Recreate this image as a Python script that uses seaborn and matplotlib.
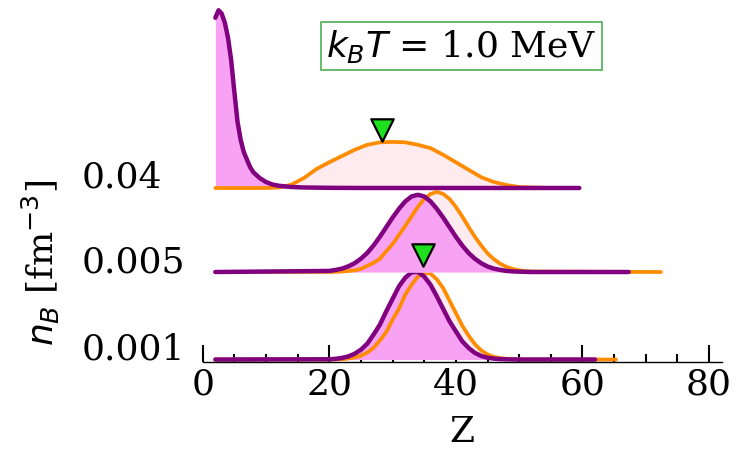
import matplotlib
matplotlib.use("Agg")
import matplotlib.pyplot as plt
import seaborn as sns

# Density labels for the three rows (bottom to top)
densities = ["0.001", "0.005", "0.04"]

# Z grid used by the two lower rows
z_mid = list(range(20, 53))

# n_B = 0.001 fm^-3 (yield in %)
purple_001 = [0.03, 0.09, 0.19, 0.37, 0.69, 1.18, 1.9, 3.0, 4.2, 5.8, 7.3, 8.8, 9.85, 10.5,
              10.55, 10.0, 9.0, 7.6, 6.1, 4.6, 3.4, 2.2, 1.4, 0.8, 0.43, 0.22, 0.11, 0.05,
              0.03, 0.01, 0, 0, 0]
orange_001 = [0, 0.01, 0.03, 0.12, 0.25, 0.45, 0.85, 1.4, 2.3, 3.3, 4.8, 6.1, 7.8, 9.0,
              10.0, 10.45, 10.35, 9.65, 8.6, 7.1, 5.6, 4.1, 2.9, 1.85, 1.1, 0.62, 0.32, 0.18,
              0.09, 0.05, 0.02, 0.01, 0]

# n_B = 0.005 fm^-3
purple_005 = [0.13, 0.25, 0.41, 0.68, 1.06, 1.6, 2.3, 3.2, 4.25, 5.4, 6.55, 7.6, 8.5, 9.1,
              9.3, 9.1, 8.5, 7.6, 6.55, 5.4, 4.25, 3.2, 2.3, 1.6, 1.06, 0.66, 0.41, 0.25,
              0.13, 0.07, 0.04, 0.02, 0]
orange_005 = [0.01, 0.02, 0.06, 0.12, 0.2, 0.37, 0.75, 1.1, 1.6, 2.5, 3.35, 4.45, 5.55, 6.7,
              7.85, 8.8, 9.4, 9.65, 9.4, 8.8, 7.85, 6.7, 5.45, 4.25, 3.2, 2.25, 1.55, 1.0,
              0.62, 0.37, 0.2, 0.1, 0.06]

# n_B = 0.04 fm^-3
z_purple_004 = [2, 2.5, 3, 3.5, 4, 4.5, 5, 5.5, 6, 6.5, 7, 7.5, 8, 9, 10, 11, 12, 14, 16, 18,
                20, 25, 59.5]
purple_004 = [20.5, 21.4, 21.0, 19.9, 18.1, 15.4, 11.6, 8.0, 5.8, 4.3, 3.4, 2.5, 1.9, 1.2,
              0.72, 0.42, 0.27, 0.12, 0.06, 0.04, 0.02, 0, 0]
z_orange_004 = [2, 10, 12, 14, 16, 18, 20, 22, 24, 26, 28, 30, 32, 34, 36, 38, 40, 42, 44, 46,
                48, 50, 52, 55, 59.5]
orange_004 = [0, 0, 0.05, 0.4, 1.2, 2.3, 3.1, 3.85, 4.6, 5.2, 5.5, 5.55, 5.5, 5.2, 4.8, 4.0,
              3.1, 2.2, 1.3, 0.72, 0.36, 0.12, 0.06, 0, 0]

# where the tails end (last Z of each curve)
tail_end = {"0.001": (62, 65.3), "0.005": (67.3, 72.4)}

# green markers: (row, Z, height above row baseline)
marker_row = ["0.04", "0.001"]
marker_z = [28.3, 34.8]
marker_h = [7.0, 12.6]

# ---- style ----
sns.set_theme(style="white")
plt.rcParams["font.family"] = ["DejaVu Serif"]
plt.rcParams["mathtext.fontset"] = "dejavusans"
plt.rcParams["text.color"] = "black"
plt.rcParams["axes.labelcolor"] = "black"
plt.rcParams["xtick.color"] = "black"
plt.rcParams["ytick.color"] = "black"

PURPLE = "#800080"
ORANGE = "#ff8c00"
MAGENTA_FILL = "#f8a2f4"
LIGHT_FILL = "#fdebef"

offsets = {"0.001": 0.3, "0.005": 10.84, "0.04": 20.96}

fig = plt.figure(figsize=(7.46, 4.51), dpi=100)
ax = fig.add_axes([0.2717, 0.1973, 0.6957, 0.8027])

rows = {
    "0.001": ([2] + z_mid + [tail_end["0.001"][0]], [0] + purple_001 + [0],
              [2] + z_mid + [tail_end["0.001"][1]], [0] + orange_001 + [0]),
    "0.005": ([2] + z_mid + [tail_end["0.005"][0]], [0] + purple_005 + [0],
              [2] + z_mid + [tail_end["0.005"][1]], [0] + orange_005 + [0]),
    "0.04": (z_purple_004, purple_004, z_orange_004, orange_004),
}

for i, d in enumerate(densities):
    zp, yp, zo, yo = rows[d]
    off = offsets[d]
    yp_off = [v + off for v in yp]
    yo_off = [v + off for v in yo]
    z0 = 3 * i
    ax.fill_between(zo, off, yo_off, color=LIGHT_FILL, lw=0, zorder=z0 + 1)
    ax.fill_between(zp, off, yp_off, color=MAGENTA_FILL, lw=0, zorder=z0 + 1.5)
    sns.lineplot(x=zo, y=yo_off, color=ORANGE, lw=2.7, ax=ax, estimator=None, sort=False,
                 zorder=z0 + 2)
    sns.lineplot(x=zp, y=yp_off, color=PURPLE, lw=3.2, ax=ax, estimator=None, sort=False,
                 zorder=z0 + 2.5)

mk_y = [offsets[r] + h for r, h in zip(marker_row, marker_h)]
sns.scatterplot(x=marker_z, y=mk_y, marker="v", s=260, color="#1fe01f",
                edgecolor="black", linewidth=1.6, ax=ax, zorder=20, clip_on=False)

ax.set_xlim(0, 82)
ax.set_ylim(0, 43.6)
for s in ["left", "right", "top"]:
    ax.spines[s].set_visible(False)
ax.spines["bottom"].set_color("black")
ax.spines["bottom"].set_linewidth(1.0)

ax.set_xticks([0, 20, 40, 60, 80])
ax.set_xticks(list(range(0, 81, 5)), minor=True)
ax.tick_params(axis="x", which="major", direction="in", length=12, width=1.5,
               labelsize=26, pad=4, bottom=True)
ax.tick_params(axis="x", which="minor", direction="in", length=5.5, width=1.5,
               bottom=True)
ax.set_xlabel("Z", fontsize=26, labelpad=10)

ax.set_yticks([offsets[d] for d in densities])
ax.set_yticklabels(densities)
ax.tick_params(axis="y", length=0, labelsize=26, pad=87)
plt.setp(ax.get_yticklabels(), ha="left", va="baseline")

ax.set_ylabel(r"$n_B$ [fm$^{-3}$]", fontsize=26)
ax.yaxis.set_label_coords(-0.272, 0.2735)

fig.text(0.6185, 0.898, r"$k_BT$ = 1.0 MeV", fontsize=26, ha="center", va="center",
         bbox=dict(boxstyle="square,pad=0.14", fc="white", ec="#4caf50", lw=1.2))

fig.savefig("out.png", dpi=100)
